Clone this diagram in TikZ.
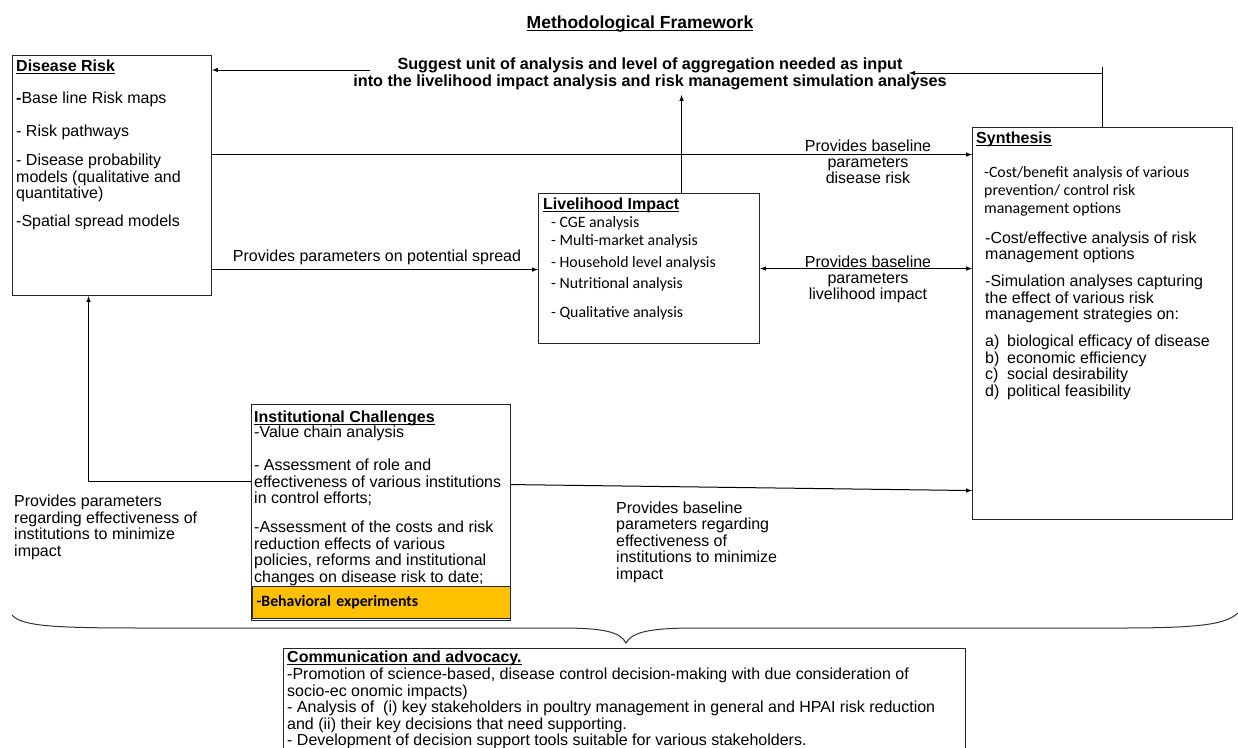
\documentclass[tikz,border=0pt]{standalone}
\usepackage{fontspec}
\setmainfont{Liberation Sans}
\newfontfamily\calibri{Carlito}
\definecolor{behavorange}{HTML}{FFC000}
\newsavebox{\headbox}
\newcommand{\uhead}[1]{\sbox{\headbox}{\bfseries #1}\rlap{\usebox{\headbox}}\rule[-2.4pt]{\wd\headbox}{1.1pt}}
\newcommand{\txtsize}{\fontsize{16}{16.5}\selectfont}
\newcommand{\calsize}{\calibri\fontsize{15.8}{18}\selectfont}
\tikzset{
  >=latex,
}
\tikzstyle{box}=[draw=black!85,line width=1.1pt,rectangle,anchor=north west,inner sep=0pt]
\tikzstyle{txt}=[anchor=north west,inner sep=0pt,align=left,font=\txtsize]
\tikzstyle{lbl}=[inner sep=0pt,align=center,font=\fontsize{16}{16}\selectfont]
\tikzstyle{link}=[line width=1pt,->]

\begin{document}
\begin{tikzpicture}[x=1pt,y=-1pt]
    \useasboundingbox (0,0) rectangle (1238,747);
    \clip (0,0) rectangle (1238,747);
    \node[lbl,font=\fontsize{17.5}{20}\selectfont] (title) at (640,24) {\uhead{Methodological Framework}};
    \node[lbl,font=\bfseries\fontsize{16.2}{17}\selectfont] (suggest) at (650,73.5) {Suggest unit of analysis and level of aggregation needed as input\\into the livelihood impact analysis and risk management simulation analyses};

    \node[box,minimum width=199pt,minimum height=240pt] (risk) at (12,55) {};
    \node[txt] (risktxt) at (16,60) {\uhead{Disease Risk}\\[15.5pt]\textbf{-}Base line Risk maps\\[16.5pt]- Risk pathways\\[12.5pt]- Disease probability\\models (qualitative and\\quantitative)\\[11.5pt]-Spatial spread models};

    \node[box,minimum width=221pt,minimum height=150pt] (live) at (538,193) {};
    \node[txt] (livetitle) at (543,198) {\uhead{Livelihood Impact}};
    \node[txt,font=\calsize] (liveitems) at (551,216.5) {- CGE analysis\\- Multi-market analysis\\[4pt]- Household level analysis\\[3pt]- Nutritional analysis\\[11pt]- Qualitative analysis};

    \node[box,minimum width=260pt,minimum height=392pt] (synth) at (972,127) {};
    \node[txt] (synthtitle) at (976,132) {\uhead{Synthesis}};
    \node[txt,font=\calsize] (synthcost) at (984,166.5) {-Cost/benefit analysis of various\\prevention/ control risk\\management options};
    \node[txt] (synthsim) at (985,231.5) {-Cost/effective analysis of risk\\management options\\[10.5pt]-Simulation analyses capturing\\the effect of various risk\\management strategies on:\\[10.5pt]\makebox[22pt][l]{a)}biological efficacy of disease\\\makebox[22pt][l]{b)}economic efficiency\\\makebox[22pt][l]{c)}social desirability\\\makebox[22pt][l]{d)}political feasibility};

    \node[box,minimum width=259pt,minimum height=216pt] (inst) at (251,404) {};
    \node[txt] (insttxt) at (254,411) {\uhead{Institutional Challenges}\\[-1.5pt]-Value chain analysis\\[16.5pt]- Assessment of role and\\effectiveness of various institutions\\in control efforts;\\[12.5pt]-Assessment of the costs and risk\\reduction effects of various\\policies, reforms and institutional\\changes on disease risk to date;};
    \node[box,fill=behavorange,minimum width=258pt,minimum height=32pt,text width=250pt,inner xsep=4pt,align=left,font=\calsize\bfseries] (behav) at (252,586) {-Behavioral experiments};

    \node[box,minimum width=682pt,minimum height=130pt] (comm) at (283,648) {};
    \node[txt,font=\fontsize{16}{16.6}\selectfont] (commtxt) at (287,651) {\uhead{Communication and advocacy.}\\-Promotion of science-based, disease control decision-making with due consideration of\\socio-ec onomic impacts)\\- Analysis of~ (i) key stakeholders in poultry management in general and HPAI risk reduction\\and (ii) their key decisions that need supporting.\\- Development of decision support tools suitable for various stakeholders.};

    \coordinate (suggestleft) at (370,70);
    \coordinate (suggestend) at (909,73);
    \draw[link] (suggestleft) -- (suggestleft -| risk.east);
    \draw[line width=1pt] (synth.north) -- ++(0,-60);
    \draw[link] (synth.north |- suggestend) -- (suggestend);
    \draw[link] ([xshift=32.5pt]live.north) -- ++(0,-98);

    \draw[link] ([yshift=21pt]risk.east) -- ([yshift=21pt]risk.east -| synth.west);
    \node[lbl] (lbldisease) at (868,162) {Provides baseline\\parameters\\disease risk};
    \draw[link] ([yshift=-94pt]risk.east) -- ([yshift=-94pt]risk.east -| live.west);
    \node[lbl] (lblspread) at (377,257) {Provides parameters on potential spread};
    \draw[link,<->] (live.east) -- (live.east -| synth.west);
    \node[lbl] (lbllive) at (868,279) {Provides baseline\\parameters\\livelihood impact};

    \draw[link] ([yshift=31pt]inst.west) -| ([xshift=-23.5pt]risk.south);
    \draw[link] ([yshift=28pt]inst.east) -- ([yshift=-167pt]synth.west);
    \node[txt] (lblinstleft) at (14,495) {Provides parameters\\regarding effectiveness of\\institutions to minimize\\impact};
    \node[txt] (lblinstright) at (616,501.5) {Provides baseline\\parameters regarding\\effectiveness of\\institutions to minimize\\impact};

    \draw[line width=1pt,black!80] (12,615) .. controls (22,627) and (60,628) .. (150,628) -- (560,628) .. controls (605,628) and (620,632) .. (626,643) .. controls (632,632) and (650,628) .. (695,628) -- (1120,628) .. controls (1205,628) and (1228,624) .. (1240,611);
  \end{tikzpicture}
\end{document}
